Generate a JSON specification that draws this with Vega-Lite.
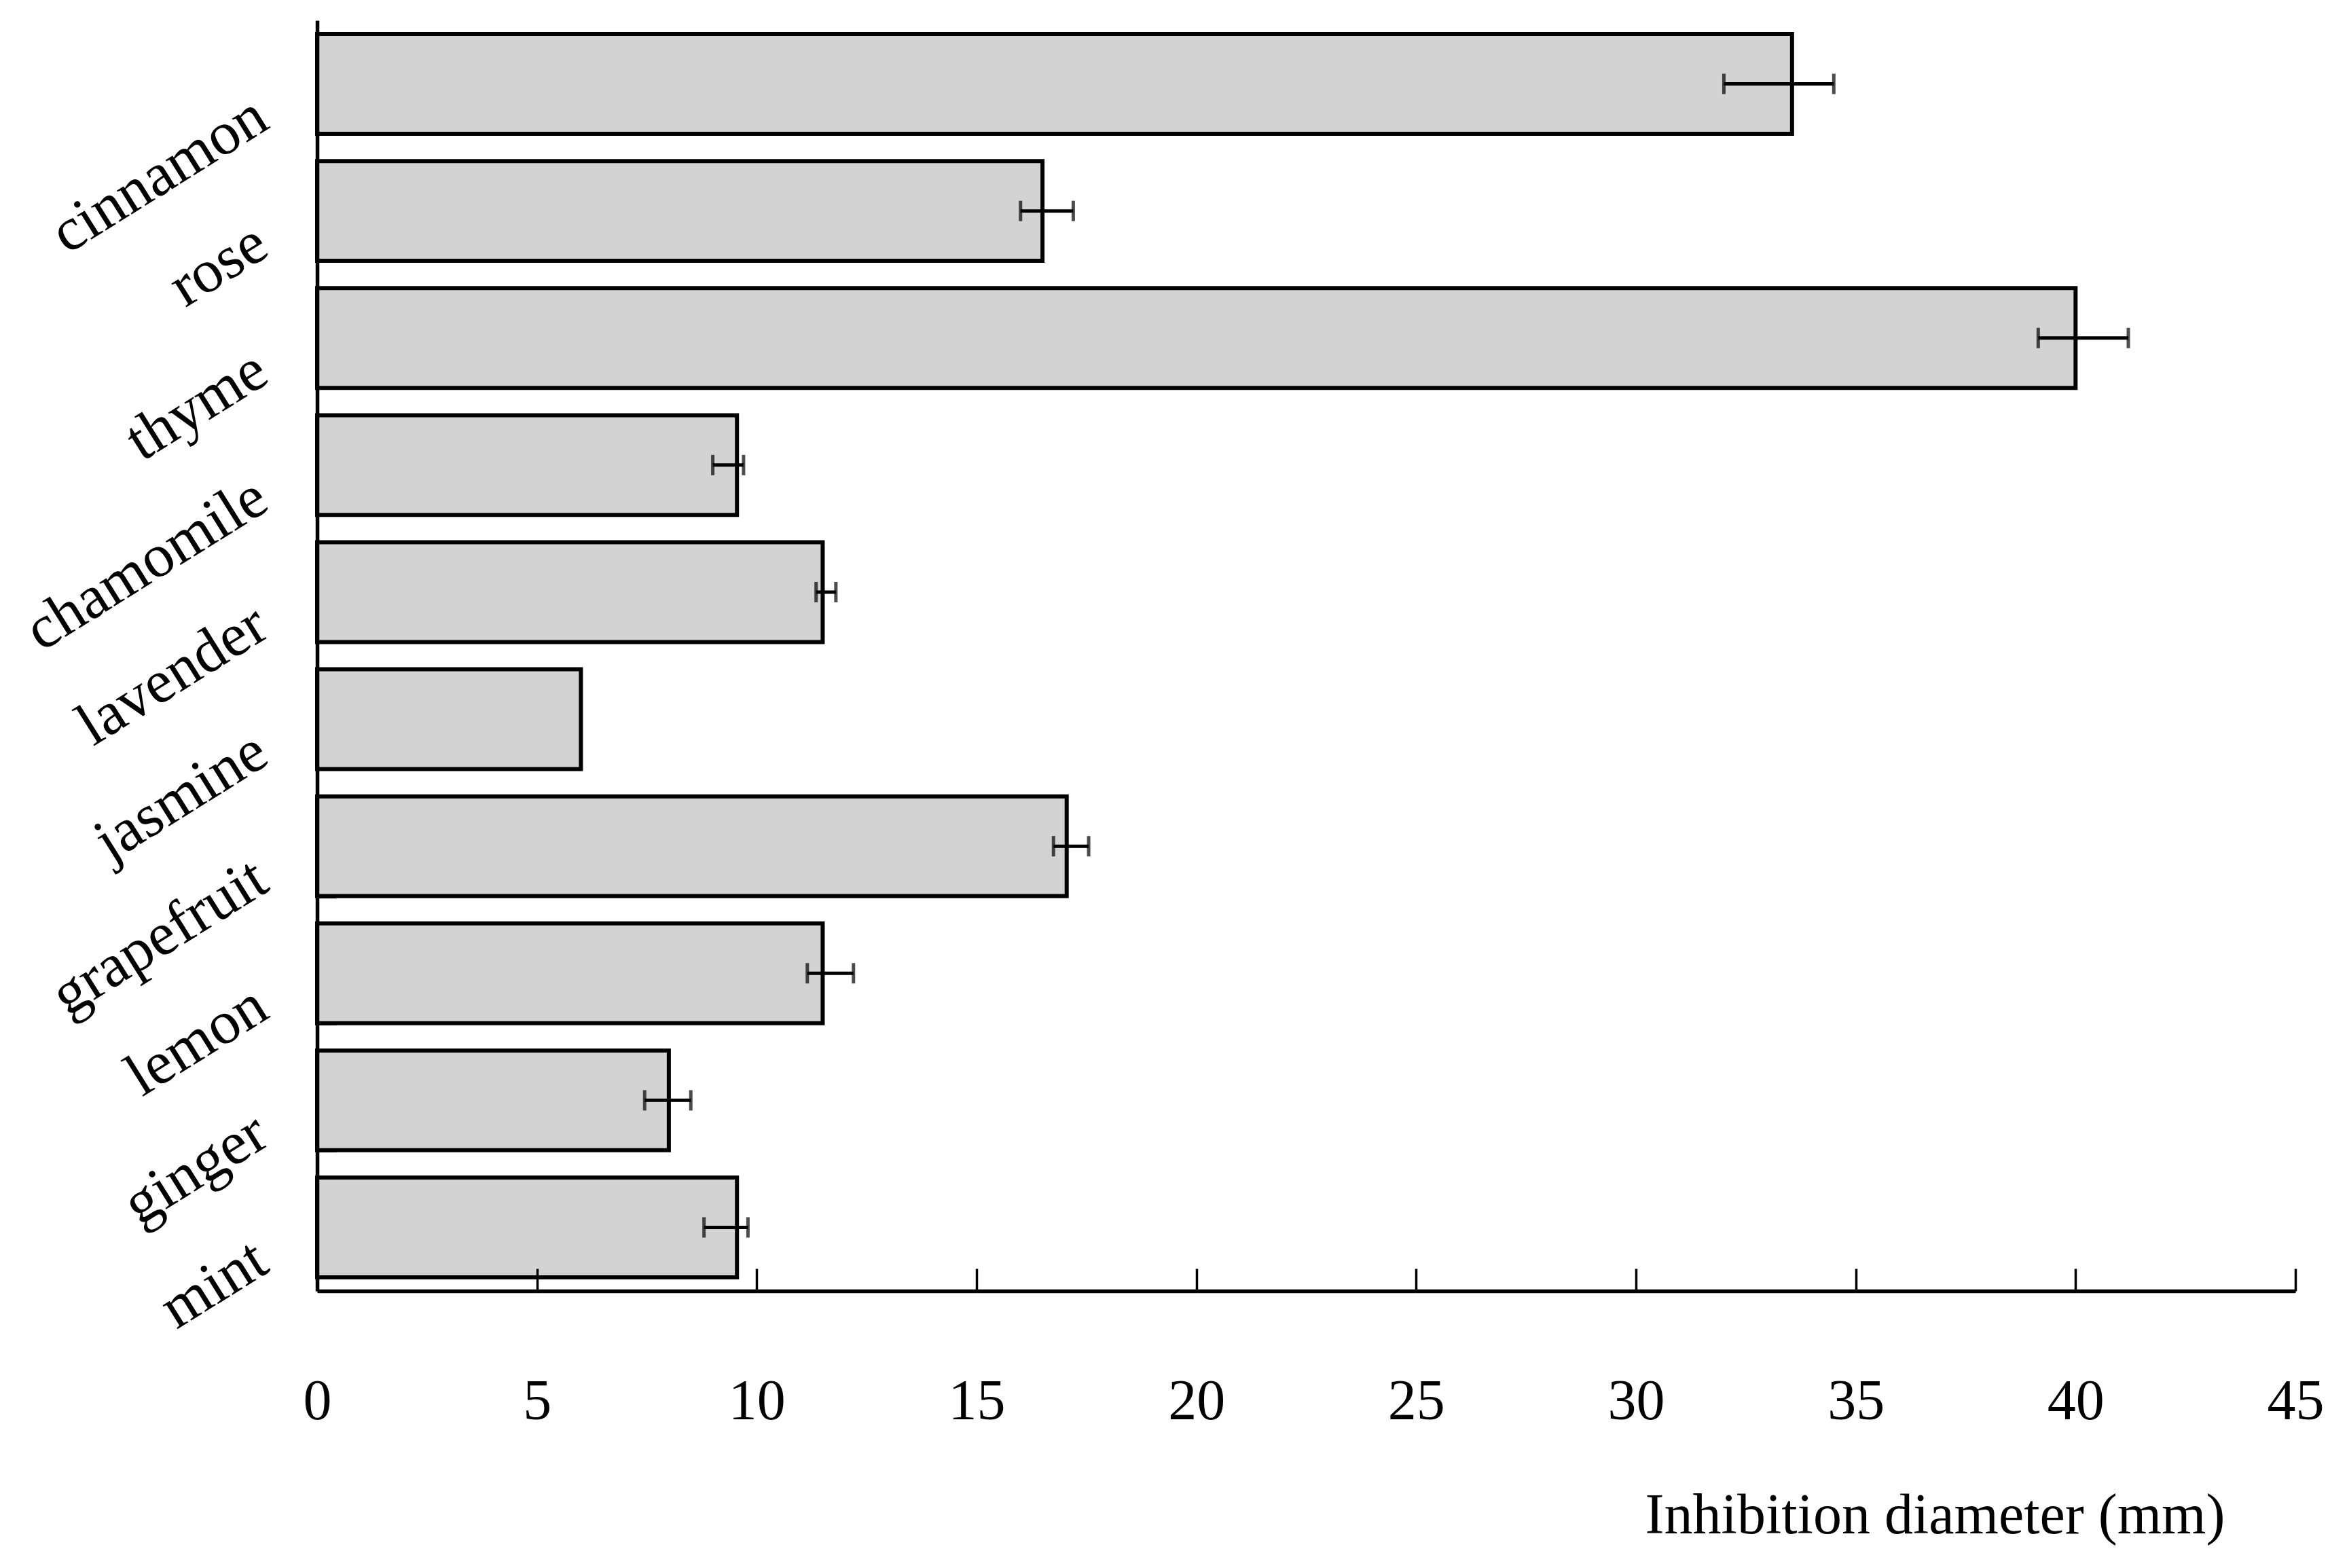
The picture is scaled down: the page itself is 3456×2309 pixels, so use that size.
{
  "$schema": "https://vega.github.io/schema/vega-lite/v6.json",
  "autosize": {"type": "none"},
  "padding": {"left": 467, "top": 30, "right": 76, "bottom": 408},
  "width": 2913,
  "height": 1871,
  "background": "white",
  "config": {"view": {"stroke": null}, "font": "Liberation Serif"},
  "data": {
    "values": [
      {"oil": "cinnamon", "mean": 33.55, "low": 32.0, "high": 34.5},
      {"oil": "rose", "mean": 16.5, "low": 16.0, "high": 17.2},
      {"oil": "thyme", "mean": 40.0, "low": 39.15, "high": 41.2},
      {"oil": "chamomile", "mean": 9.55, "low": 9.0, "high": 9.7},
      {"oil": "lavender", "mean": 11.5, "low": 11.35, "high": 11.8},
      {"oil": "jasmine", "mean": 6.0, "low": null, "high": null},
      {"oil": "grapefruit", "mean": 17.05, "low": 16.75, "high": 17.55},
      {"oil": "lemon", "mean": 11.5, "low": 11.15, "high": 12.2},
      {"oil": "ginger", "mean": 8.0, "low": 7.45, "high": 8.5},
      {"oil": "mint", "mean": 9.55, "low": 8.8, "high": 9.8}
    ]
  },
  "encoding": {
    "y": {
      "field": "oil",
      "type": "nominal",
      "sort": null,
      "scale": {"paddingInner": 0.215, "paddingOuter": 0.1075},
      "axis": {
        "title": null,
        "zindex": 1,
        "domainColor": "black",
        "domainWidth": 5.5,
        "tickColor": "black",
        "tickWidth": 5,
        "tickSize": -28,
        "tickBand": "extent",
        "labelAngle": -32,
        "labelAlign": "right",
        "labelBaseline": "middle",
        "labelFont": "Liberation Serif",
        "labelFontSize": 90,
        "labelColor": "black",
        "labelPadding": 110,
        "labelOffset": 40,
        "labelLimit": 0,
        "labelOverlap": false,
        "labelBound": false
      }
    }
  },
  "layer": [
    {
      "mark": {"type": "bar", "fill": "#d3d3d3", "stroke": "black", "strokeWidth": 6},
      "encoding": {
        "x": {
          "field": "mean",
          "type": "quantitative",
          "scale": {"domain": [0, 45], "nice": false, "zero": true},
          "axis": {
            "values": [0, 5, 10, 15, 20, 25, 30, 35, 40, 45],
            "format": "d",
            "grid": false,
            "zindex": 1,
            "domainColor": "black",
            "domainWidth": 5.5,
            "tickColor": "black",
            "tickWidth": 3.5,
            "tickSize": -33,
            "labelFont": "Liberation Serif",
            "labelFontSize": 84,
            "labelColor": "black",
            "labelPadding": 155,
            "labelFlush": false,
            "labelOverlap": false,
            "title": "Inhibition diameter (mm)",
            "titleFont": "Liberation Serif",
            "titleFontSize": 84,
            "titleFontWeight": "normal",
            "titleColor": "black",
            "titleX": 2382,
            "titleY": 331,
            "titleAlign": "center",
            "titleBaseline": "middle"
          }
        }
      }
    },
    {
      "transform": [{"filter": "datum.low != null"}],
      "mark": {"type": "rule", "color": "black", "strokeWidth": 5},
      "encoding": {
        "x": {"field": "low", "type": "quantitative"},
        "x2": {"field": "high"}
      }
    },
    {
      "transform": [{"filter": "datum.low != null"}],
      "mark": {"type": "tick", "color": "black", "thickness": 5, "size": 30},
      "encoding": {"x": {"field": "low", "type": "quantitative"}}
    },
    {
      "transform": [{"filter": "datum.high != null"}],
      "mark": {"type": "tick", "color": "black", "thickness": 5, "size": 30},
      "encoding": {"x": {"field": "high", "type": "quantitative"}}
    }
  ]
}
